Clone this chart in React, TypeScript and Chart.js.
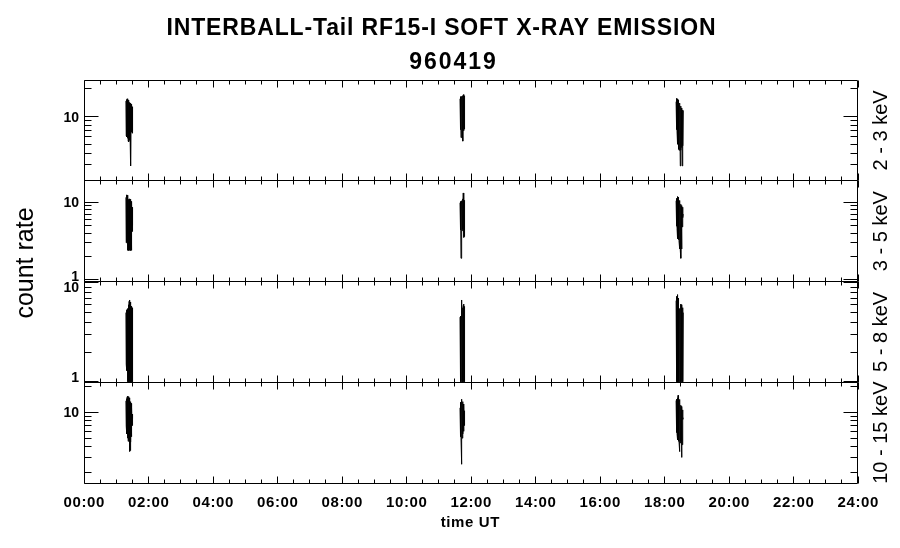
import React, { useEffect, useRef } from 'react';
import { Chart, registerables } from 'chart.js';

Chart.register(...registerables);

// ---------- text ----------
const TITLE = 'INTERBALL-Tail RF15-I SOFT X-RAY EMISSION';
const SUBTITLE = '960419';
const Y_TITLE = 'count rate';
const X_TITLE = 'time UT';
const BANDS = ['2 - 3 keV', '3 - 5 keV', '5 - 8 keV', '10 - 15 keV'];

// ---------- x axis (hours UT) ----------
const X_MIN = 0;
const X_MAX = 24;
const X_MAJOR = [0, 2, 4, 6, 8, 10, 12, 14, 16, 18, 20, 22, 24];
const X_LABELS = ['00:00', '02:00', '04:00', '06:00', '08:00', '10:00', '12:00', '14:00', '16:00', '18:00', '20:00', '22:00', '24:00'];
const X_MINOR_STEP = 0.5;

// ---------- y axes (log) ----------
const Y_MIN = [2, 0.956, 0.99, 1.52];
const Y_MAX = [25, 18.8, 10.3, 22.1];
const Y_TICK_VALUES = [1, 2, 3, 4, 5, 6, 7, 8, 9, 10, 20, 30];
const Y_MAJOR_VALUES = [1, 10];

// ---------- data: burst times (hours UT) ----------
const T1 = [1.30, 1.31, 1.32, 1.33, 1.34, 1.35, 1.36, 1.37, 1.38, 1.39, 1.40, 1.41, 1.42, 1.43, 1.44, 1.45, 1.46, 1.47, 1.48, 1.49, 1.50, 1.51];
const T2 = [11.66, 11.67, 11.68, 11.69, 11.70, 11.71, 11.72, 11.73, 11.74, 11.75, 11.76, 11.77, 11.78, 11.79, 11.80];
const T3 = [18.36, 18.37, 18.38, 18.39, 18.40, 18.41, 18.42, 18.43, 18.44, 18.45, 18.46, 18.47, 18.48, 18.49, 18.50, 18.51, 18.52, 18.53, 18.54, 18.55, 18.56, 18.57, 18.58];

// 2 - 3 keV
const P1_B1 = [14.8, 6.2, 15.3, 6.0, 15.6, 5.8, 14.9, 5.4, 15.1, 5.3, 14.2, 5.5, 13.8, 6.0, 14.0, 2.9, 13.6, 6.8, 13.2, 6.6, 12.8, 7.0];
const P1_B2 = [15.6, 7.2, 16.5, 5.9, 16.4, 7.0, 16.6, 7.1, 16.8, 5.4, 17.2, 7.0, 17.4, 7.3, 16.9];
const P1_B3 = [14.5, 7.2, 15.8, 6.8, 15.6, 5.0, 15.2, 4.4, 14.6, 4.3, 14.0, 4.3, 13.6, 2.9, 13.0, 4.3, 12.4, 4.6, 12.0, 2.9, 11.8, 4.8, 11.6];
// 3 - 5 keV
const P2_B1 = [11.5, 3.0, 12.4, 3.1, 12.2, 2.4, 12.3, 2.4, 10.8, 2.4, 11.0, 2.4, 10.5, 2.4, 10.9, 2.4, 10.2, 2.4, 9.8, 4.2, 8.6, 5.0];
const P2_B2 = [9.8, 4.4, 10.2, 1.9, 10.3, 4.4, 10.4, 4.3, 11.0, 4.5, 13.1, 3.5, 12.0, 3.6, 10.6];
const P2_B3 = [10.4, 4.9, 11.2, 4.6, 11.8, 3.4, 11.6, 3.3, 11.0, 3.2, 10.5, 2.5, 10.0, 2.4, 9.4, 1.9, 9.0, 2.5, 8.8, 4.8, 8.6, 6.3, 7.0];
// 5 - 8 keV
const P3_B1 = [5.0, 1.5, 5.3, 1.3, 5.4, 1.0, 5.5, 1.0, 6.0, 1.0, 6.5, 1.0, 6.7, 1.0, 6.4, 1.0, 5.8, 1.0, 5.7, 1.0, 5.6, 1.0];
const P3_B2 = [4.5, 1.0, 4.6, 1.0, 6.7, 1.0, 5.2, 1.0, 5.6, 1.0, 5.9, 1.0, 6.1, 1.0, 5.8];
const P3_B3 = [6.6, 1.0, 7.3, 1.0, 7.6, 1.0, 7.0, 1.0, 6.0, 1.0, 5.5, 1.0, 5.4, 1.0, 6.1, 1.0, 6.0, 1.0, 5.9, 1.0, 5.6, 1.0, 5.0];
// 10 - 15 keV
const P4_B1 = [13.5, 6.9, 14.3, 5.6, 15.0, 5.0, 15.3, 4.6, 15.1, 4.8, 14.6, 3.5, 14.0, 3.6, 13.2, 4.5, 12.6, 5.2, 11.4, 7.0, 9.5, 8.4];
const P4_B2 = [11.2, 5.2, 13.0, 5.0, 14.1, 2.5, 14.0, 5.0, 13.2, 5.6, 12.4, 6.0, 11.8, 7.0, 10.4];
const P4_B3 = [13.6, 5.8, 14.1, 5.6, 14.6, 4.8, 15.6, 4.6, 15.2, 4.6, 14.0, 3.5, 12.8, 4.4, 12.0, 4.6, 11.6, 3.0, 11.3, 4.2, 10.6, 8.2, 8.6];

const PANEL_VALUES = [
  [P1_B1, P1_B2, P1_B3],
  [P2_B1, P2_B2, P2_B3],
  [P3_B1, P3_B2, P3_B3],
  [P4_B1, P4_B2, P4_B3],
];
const BURST_TIMES = [T1, T2, T3];

const FONT = '"Liberation Sans", Arial, Helvetica, sans-serif';

function buildPoints(bursts: number[][]) {
  const pts: { x: number; y: number | null }[] = [];
  bursts.forEach((vals, b) => {
    const ts = BURST_TIMES[b];
    vals.forEach((v, i) => pts.push({ x: ts[i], y: v }));
    pts.push({ x: ts[ts.length - 1] + 0.01, y: null });
  });
  return pts;
}

function drawText(
  ctx: CanvasRenderingContext2D,
  s: string,
  x: number,
  y: number,
  font: string,
  align: CanvasTextAlign,
  ls = 0,
  rot = 0
) {
  ctx.save();
  ctx.font = font;
  (ctx as any).letterSpacing = ls + 'px';
  ctx.textAlign = align;
  ctx.textBaseline = 'alphabetic';
  ctx.translate(x, y);
  if (rot) ctx.rotate(rot);
  const dx = align === 'center' ? ls / 2 : align === 'right' ? ls : 0;
  ctx.fillText(s, dx, 0);
  ctx.restore();
}

const crisp = (v: number) => Math.floor(v) + 0.5;

const overlayPlugin = {
  id: 'idlOverlay',
  afterDraw(chart: any) {
    const ctx: CanvasRenderingContext2D = chart.ctx;
    const xs = chart.scales.x;
    const left = crisp(xs.left);
    const right = crisp(xs.right - 1);
    ctx.save();
    ctx.strokeStyle = '#000';
    ctx.fillStyle = '#000';
    ctx.lineWidth = 1;

    const xMinor: number[] = [];
    for (let v = X_MIN; v <= X_MAX + 1e-9; v += X_MINOR_STEP) xMinor.push(v);

    for (let i = 0; i < 4; i++) {
      const ys = chart.scales['y' + i];
      const top = crisp(ys.top);
      const bottom = crisp(ys.bottom);
      ctx.beginPath();
      ctx.rect(left, top, right - left, bottom - top);
      ctx.stroke();

      // x ticks top/bottom, inward
      ctx.beginPath();
      xMinor.forEach((v) => {
        const major = X_MAJOR.some((m) => Math.abs(m - v) < 1e-6);
        const len = major ? 7 : 4;
        const px = crisp(xs.getPixelForValue(v));
        ctx.moveTo(px, top);
        ctx.lineTo(px, top + len);
        ctx.moveTo(px, bottom);
        ctx.lineTo(px, bottom - len);
      });
      ctx.stroke();

      // y ticks left/right, inward
      ctx.beginPath();
      Y_TICK_VALUES.forEach((v) => {
        if (v < Y_MIN[i] || v > Y_MAX[i]) return;
        const major = Y_MAJOR_VALUES.includes(v);
        const len = major ? 14 : 7;
        const py = crisp(ys.getPixelForValue(v));
        ctx.moveTo(left, py);
        ctx.lineTo(left + len, py);
        ctx.moveTo(right, py);
        ctx.lineTo(right - len, py);
      });
      ctx.stroke();

      // y labels
      Y_MAJOR_VALUES.forEach((v) => {
        if (v < Y_MIN[i] || v > Y_MAX[i]) return;
        let py = ys.getPixelForValue(v);
        py = Math.max(ys.top + 5.5, Math.min(ys.bottom - 5.5, py));
        drawText(ctx, String(v), xs.left - 5, py + 5, 'bold 14px ' + FONT, 'right');
      });

      // band label at right
      const cy = (ys.top + ys.bottom) / 2;
      drawText(ctx, BANDS[i], 887, cy, '20px ' + FONT, 'center', 0, -Math.PI / 2);
    }

    // x labels
    X_MAJOR.forEach((v, k) => {
      const px = xs.getPixelForValue(v);
      drawText(ctx, X_LABELS[k], px, 506.5, 'bold 15px ' + FONT, 'center', 0.6);
    });

    // titles
    drawText(ctx, TITLE, 441, 34.5, 'bold 23px ' + FONT, 'center', 0.85);
    drawText(ctx, SUBTITLE, 452.5, 69, 'bold 23px ' + FONT, 'center', 2);
    drawText(ctx, X_TITLE, 470, 526.5, 'bold 15px ' + FONT, 'center', 0.6);
    drawText(ctx, Y_TITLE, 33, 263, '25px ' + FONT, 'center', 0, -Math.PI / 2);

    ctx.restore();
  },
};

function hiddenAxis(extra: any) {
  return {
    display: true,
    grid: { display: false, drawTicks: false },
    border: { display: false },
    ticks: { display: false },
    title: { display: false },
    ...extra,
  };
}

export default function App() {
  const canvasRef = useRef<HTMLCanvasElement | null>(null);

  useEffect(() => {
    if (!canvasRef.current) return;
    const datasets = PANEL_VALUES.map((bursts, i) => ({
      label: BANDS[i],
      data: buildPoints(bursts),
      yAxisID: 'y' + i,
      xAxisID: 'x',
      borderColor: '#000',
      backgroundColor: '#000',
      borderWidth: 1,
      pointRadius: 0,
      spanGaps: false,
      tension: 0,
    }));

    const scales: any = {
      x: hiddenAxis({ type: 'linear', position: 'bottom', min: X_MIN, max: X_MAX }),
    };
    // stacked axes are placed bottom-first, so insert the lowest panel first
    for (let i = 3; i >= 0; i--) {
      scales['y' + i] = hiddenAxis({
        type: 'logarithmic',
        axis: 'y',
        position: 'left',
        stack: 'panels',
        stackWeight: 1,
        min: Y_MIN[i],
        max: Y_MAX[i],
      });
    }

    const chart = new Chart(canvasRef.current, {
      type: 'line',
      data: { datasets },
      options: {
        responsive: false,
        animation: false,
        devicePixelRatio: 1,
        parsing: true,
        layout: { padding: { left: 84, right: 42, top: 80, bottom: 65 } },
        plugins: {
          legend: { display: false },
          title: { display: false },
          tooltip: { enabled: false },
        },
        events: [],
        scales,
      },
      plugins: [overlayPlugin],
    } as any);
    return () => chart.destroy();
  }, []);

  return (
    <div style={{ position: 'absolute', left: 0, top: 0, width: 900, height: 548, background: '#fff' }}>
      <canvas ref={canvasRef} width={900} height={548} style={{ display: 'block', width: 900, height: 548 }} />
    </div>
  );
}
